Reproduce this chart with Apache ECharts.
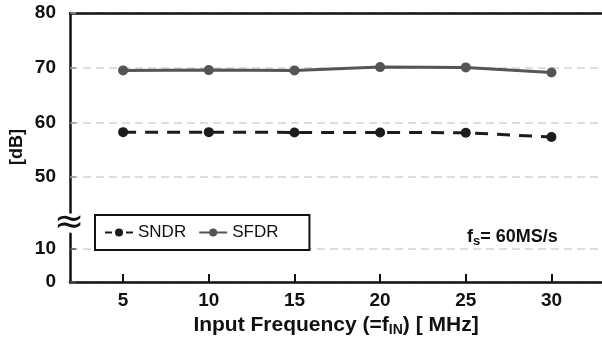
<!DOCTYPE html>
<html>
<head>
<meta charset="utf-8">
<script src="https://cdn.jsdelivr.net/npm/echarts@6/dist/echarts.min.js"></script>
<style>
  html, body { margin: 0; padding: 0; background: #fff; }
  #chart { width: 602px; height: 338px; }
</style>
</head>
<body>
<div id="chart"></div>
<script>
var freqs = [5, 10, 15, 20, 25, 30];
var sndr = [58.2, 58.2, 58.15, 58.15, 58.1, 57.3];
var sfdr = [69.5, 69.55, 69.5, 70.1, 70.05, 69.1];
var upperTicks = [50, 60, 70, 80];
var lowerTicks = [0, 10];

function pairs(ys) {
    return freqs.map(function (f, i) { return [f, ys[i]]; });
}

var FONT = 'Liberation Sans';
var gridLine = { show: true, lineStyle: { color: '#d4d4d4', width: 1.5, type: [8, 5] } };
var labelStyle = { color: '#111', fontFamily: FONT, fontWeight: 'bold', fontSize: 19 };

var myChart = echarts.init(document.getElementById('chart'));

option = {
    animation: false,
    grid: [
        { left: 70, right: 0, top: 13, bottom: 125.5 },
        { left: 70, right: 0, top: 233.7, bottom: 55 }
    ],
    legend: {
        left: 95,
        top: 215,
        orient: 'horizontal',
        backgroundColor: '#fff',
        borderColor: '#111',
        borderWidth: 2,
        padding: [9, 31, 9, 9],
        itemWidth: 28,
        itemHeight: 10,
        itemGap: 12,
        textStyle: { color: '#111', fontFamily: FONT, fontSize: 17 },
        data: [
            { name: 'SNDR', lineStyle: { type: [7, 14] } },
            { name: 'SFDR' }
        ]
    },
    xAxis: [
        {
            gridIndex: 0,
            type: 'value',
            position: 'top',
            min: 1.9,
            max: 32.95,
            axisLine: { show: true, lineStyle: { color: '#111', width: 2.5 } },
            axisTick: { show: false },
            axisLabel: { show: false },
            splitLine: { show: false }
        },
        {
            gridIndex: 1,
            type: 'value',
            min: 1.9,
            max: 32.95,
            axisLine: { show: true, onZero: false, lineStyle: { color: '#111', width: 2.5 } },
            axisTick: { show: true, inside: true, length: 8, customValues: freqs, lineStyle: { color: '#111', width: 2 } },
            axisLabel: Object.assign({ customValues: freqs, margin: 9 }, labelStyle),
            splitLine: { show: false },
            name: '{a|Input Frequency (=f}{b|IN}{a|) [ MHz]}',
            nameLocation: 'middle',
            nameGap: 32,
            nameTextStyle: {
                rich: {
                    a: { color: '#111', fontFamily: FONT, fontWeight: 'bold', fontSize: 21 },
                    b: { color: '#111', fontFamily: FONT, fontWeight: 'bold', fontSize: 14, padding: [9, 0, 0, 0] }
                }
            }
        }
    ],
    yAxis: [
        {
            gridIndex: 0,
            type: 'value',
            min: 43.5,
            max: 80,
            axisLine: { show: true, lineStyle: { color: '#111', width: 2.5 } },
            axisTick: { show: true, inside: true, length: 6, customValues: upperTicks, lineStyle: { color: '#999', width: 1.5 } },
            axisLabel: Object.assign({ customValues: upperTicks, margin: 14 }, labelStyle),
            splitLine: gridLine
        },
        {
            gridIndex: 1,
            type: 'value',
            min: 0,
            max: 14.5,
            interval: 10,
            axisLine: { show: true, lineStyle: { color: '#111', width: 2.5 } },
            axisTick: { show: true, inside: true, length: 6, customValues: lowerTicks, lineStyle: { color: '#555', width: 1.5 } },
            axisLabel: Object.assign({ customValues: lowerTicks, margin: 14 }, labelStyle),
            splitLine: gridLine
        }
    ],
    graphic: [
        {
            type: 'text',
            x: 17,
            y: 147,
            rotation: Math.PI / 2,
            style: {
                text: '[dB]',
                fill: '#111',
                font: 'bold 18px "Liberation Sans"',
                textAlign: 'center',
                textVerticalAlign: 'middle'
            }
        },
        {
            type: 'text',
            x: 69,
            y: 224,
            z: 10,
            style: {
                text: '≈',
                fill: '#111',
                font: '36px "DejaVu Sans"',
                textAlign: 'center',
                textVerticalAlign: 'middle'
            }
        },
        {
            type: 'text',
            x: 467,
            y: 237,
            style: {
                text: '{a|f}{b|s}{a|= 60MS/s}',
                textVerticalAlign: 'middle',
                rich: {
                    a: { fill: '#111', fontFamily: FONT, fontWeight: 'bold', fontSize: 18 },
                    b: { fill: '#111', fontFamily: FONT, fontWeight: 'bold', fontSize: 13, padding: [8, 0, 0, 0] }
                }
            }
        }
    ],
    series: [
        {
            name: 'SNDR',
            type: 'line',
            xAxisIndex: 0,
            yAxisIndex: 0,
            data: pairs(sndr),
            symbol: 'circle',
            symbolSize: 10,
            itemStyle: { color: '#1c1c1c' },
            lineStyle: { color: '#1c1c1c', width: 3, type: [13, 9] }
        },
        {
            name: 'SFDR',
            type: 'line',
            xAxisIndex: 0,
            yAxisIndex: 0,
            data: pairs(sfdr),
            symbol: 'circle',
            symbolSize: 10,
            itemStyle: { color: '#555' },
            lineStyle: { color: '#555', width: 3 }
        }
    ]
};

myChart.setOption(option);
</script>
</body>
</html>
